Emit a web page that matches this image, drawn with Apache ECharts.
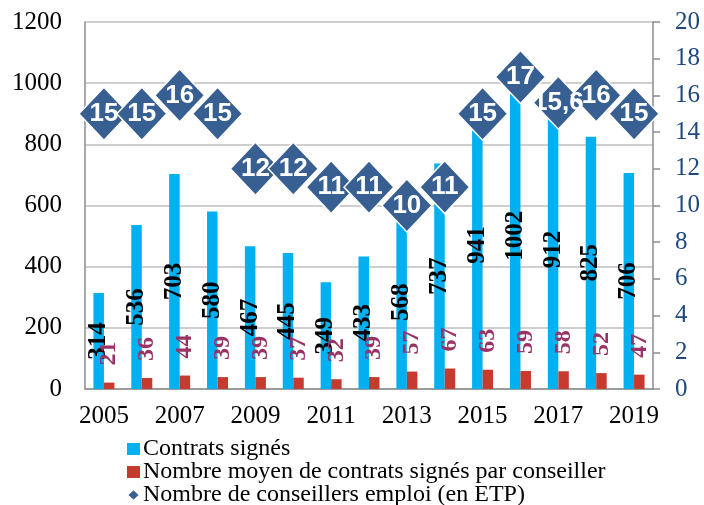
<!DOCTYPE html>
<html>
<head>
<meta charset="utf-8">
<script src="https://cdn.jsdelivr.net/npm/echarts@6/dist/echarts.min.js"></script>
<style>
  html, body { margin: 0; padding: 0; background: #fff; }
  #chart { width: 704px; height: 505px; }
</style>
</head>
<body>
<div id="chart"></div>
<script>
// données
var annees = ['2005','2006','2007','2008','2009','2010','2011','2012','2013','2014','2015','2016','2017','2018','2019'];
var contrats = [314, 536, 703, 580, 467, 445, 349, 433, 568, 737, 941, 1002, 912, 825, 706];
var moyenne = [21, 36, 44, 39, 39, 37, 32, 39, 57, 67, 63, 59, 58, 52, 47];
var conseillers = [15, 15, 16, 15, 12, 12, 11, 11, 10, 11, 15, 17, 15.6, 16, 15];

var serif = 'Liberation Serif';

var chart = echarts.init(document.getElementById('chart'));
chart.setOption({
    animation: false,
    grid: { left: 85, right: 51, top: 22, bottom: 116 },
    legend: {
        orient: 'vertical',
        left: 126,
        top: 437,
        height: 100,
        padding: 0,
        itemGap: -1,
        itemWidth: 13,
        itemHeight: 12,
        textStyle: { fontFamily: serif, fontSize: 24, lineHeight: 23, color: '#000', padding: [0, 0, 0, -2] },
        data: [
            { name: 'Contrats signés', icon: 'rect' },
            { name: 'Nombre moyen de contrats signés par conseiller', icon: 'rect' },
            { name: 'Nombre de conseillers emploi (en ETP)', icon: 'diamond' }
        ]
    },
    xAxis: {
        type: 'category',
        data: annees,
        axisLine: { lineStyle: { color: '#8c8c8c', width: 1.5 } },
        axisTick: { show: false },
        axisLabel: { interval: 1, fontFamily: serif, fontSize: 25, color: '#000', margin: 15 }
    },
    yAxis: [
        {
            type: 'value', min: 0, max: 1200, interval: 200,
            axisLine: { show: true, lineStyle: { color: '#8c8c8c', width: 1.5 } },
            axisTick: { show: false },
            splitLine: { lineStyle: { color: '#bfbfbf', width: 1.5 } },
            axisLabel: {
                fontFamily: serif, fontSize: 25, color: '#000', margin: 23,
                formatter: function (v) { return String(v); }
            }
        },
        {
            type: 'value', min: 0, max: 20, interval: 2,
            axisLine: { show: true, lineStyle: { color: '#8c8c8c', width: 1.5 } },
            axisTick: { show: true, length: 7, lineStyle: { color: '#8c8c8c', width: 1.5 } },
            splitLine: { show: false },
            axisLabel: { fontFamily: serif, fontSize: 25, color: '#1f497d', margin: 22 }
        }
    ],
    series: [
        {
            name: 'Contrats signés',
            type: 'bar',
            data: contrats,
            barWidth: 10.5,
            barGap: '0%',
            itemStyle: { color: '#00b0f0' },
            label: {
                show: true, position: 'inside', rotate: 90,
                fontFamily: serif, fontSize: 25, fontWeight: 'bold', color: '#000'
            }
        },
        {
            name: 'Nombre moyen de contrats signés par conseiller',
            type: 'bar',
            data: moyenne,
            barWidth: 10.5,
            itemStyle: { color: '#c63b30' },
            label: {
                show: true, position: 'top', rotate: 90, distance: 17,
                align: 'left', verticalAlign: 'middle',
                fontFamily: serif, fontSize: 24, fontWeight: 'bold', color: '#993366'
            }
        },
        {
            name: 'Nombre de conseillers emploi (en ETP)',
            type: 'scatter',
            yAxisIndex: 1,
            z: 5,
            data: conseillers,
            symbol: 'diamond',
            symbolSize: [50, 53],
            itemStyle: { color: '#375f92', borderColor: '#fff', borderWidth: 1.5, opacity: 1 },
            label: {
                show: true, position: 'inside',
                fontFamily: 'Liberation Sans', fontSize: 26, fontWeight: 'bold', color: '#fff',
                formatter: function (p) { return String(p.value).replace('.', ','); }
            }
        }
    ]
});
</script>
</body>
</html>
